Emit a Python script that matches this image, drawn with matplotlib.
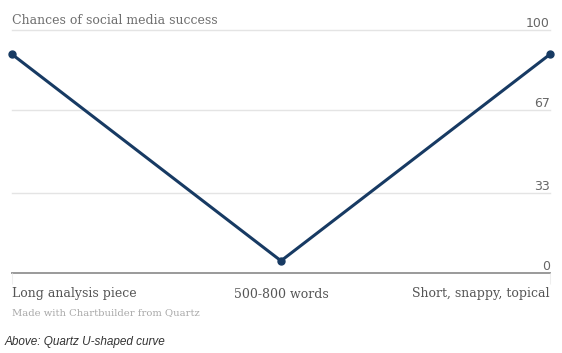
import matplotlib
matplotlib.use("Agg")
import matplotlib.pyplot as plt

categories = ["Long analysis piece", "500-800 words", "Short, snappy, topical"]
values = [90, 5, 90]
yticks = [0, 33, 67, 100]

W, H = 562, 353
fig = plt.figure(figsize=(W / 100, H / 100), dpi=100)
fig.patch.set_facecolor("white")

x0, x1 = 12, 550
ytop, ybot = 30, 273
ax = fig.add_axes([x0 / W, 1 - ybot / H, (x1 - x0) / W, (ybot - ytop) / H])
ax.set_xlim(0, len(categories) - 1)
ax.set_ylim(0, 100)
for s in ax.spines.values():
    s.set_visible(False)
ax.set_xticks([0, len(categories) - 1])
ax.set_xticklabels([])
ax.tick_params(axis="x", length=8, width=0.8, color="#eeeeee", direction="out")
ax.set_yticks([])

for t in yticks:
    if t == 0:
        ax.axhline(t, color="#9a9a9a", lw=1.4, zorder=1, clip_on=False)
    else:
        ax.axhline(t, color="#e4e4e4", lw=1.0, zorder=1, clip_on=False)
    ax.text(1.0, t, str(t), transform=ax.get_yaxis_transform(), ha="right", va="bottom",
            fontsize=9, color="#666666", family="DejaVu Sans")

ax.plot(range(len(values)), values, color="#173a63", lw=2.2, marker="o", ms=5,
        zorder=3, clip_on=False, solid_capstyle="round")

serif = "DejaVu Serif"
fig.text(x0 / W, 1 - 20 / H, "Chances of social media success", ha="left", va="center",
         fontsize=9, color="#6e6e6e", family=serif)

ha_list = ["left", "center", "right"]
xs = [x0, (x0 + x1) / 2, x1]
for c, h, xx in zip(categories, ha_list, xs):
    fig.text(xx / W, 1 - 294 / H, c, ha=h, va="center", fontsize=9, color="#555555",
             family=serif)

fig.text(x0 / W, 1 - 313 / H, "Made with Chartbuilder from Quartz", ha="left", va="center",
         fontsize=7.2, color="#a8a8a8", family=serif)

fig.text(5 / W, 1 - 342 / H, "Above: Quartz U-shaped curve", ha="left", va="center",
         fontsize=8.5, color="#333333", family="Liberation Sans", style="italic")

fig.savefig("out.png", dpi=100, facecolor="white")
